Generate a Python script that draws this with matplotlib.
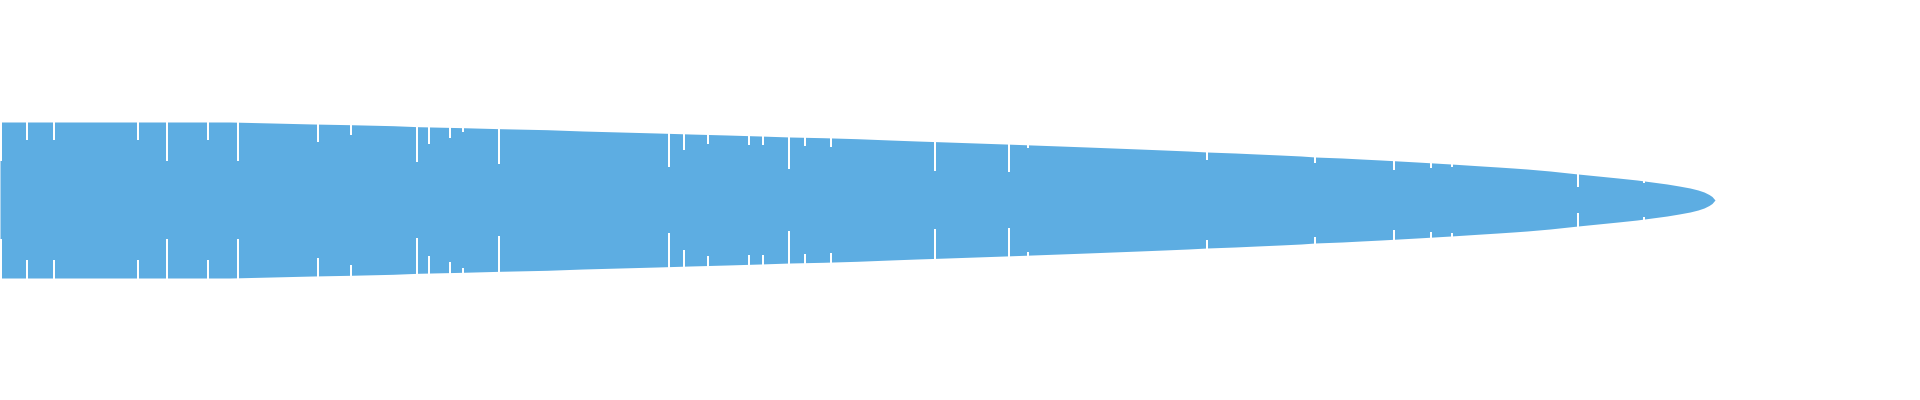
import matplotlib
matplotlib.use("Agg")
import matplotlib.pyplot as plt

# outline of the band: x position and half height (band is mirrored round 0)
env_x = [0, 230, 272, 313, 350, 393, 418, 463, 500, 547, 583, 620, 657, 690,
         727, 760, 790, 823, 857, 890, 917, 947, 976, 1005, 1060, 1087, 1113,
         1139, 1164, 1188, 1207, 1235, 1257, 1280, 1301, 1315, 1342, 1361,
         1381, 1417, 1451, 1482, 1498, 1513, 1527, 1550, 1578, 1598, 1618,
         1637, 1652, 1667, 1679, 1690, 1698, 1704, 1709, 1712, 1715]
env_half = [78, 78, 77, 76, 75.3, 74.3, 73.3, 72.3, 71.3, 70.3, 69, 68, 67,
            66, 65, 64, 63, 62.3, 61.3, 60, 59, 58, 57, 56, 54, 53, 52, 51, 50,
            49, 48, 47, 46, 45, 44, 43, 42, 41, 40, 38, 36, 34, 33, 32, 31, 29,
            26, 24, 22, 20, 18, 16, 14, 12, 10, 8, 5.5, 3.5, 0]

# white cut lines: x position and where the cut stops (half height)
cut_x = [0.8, 27, 54, 138, 167, 208, 238, 318, 351, 417, 429, 450, 463, 499,
         669, 684, 708, 749, 763, 789, 805, 831, 935, 1009, 1028, 1207, 1315,
         1394, 1431, 1452, 1578, 1644]
cut_inner = [39, 60, 60, 60, 39, 60, 39, 58, 65, 38, 56, 62, 68, 36,
             33, 50, 56, 55, 55, 31, 54, 53, 29, 28, 52, 40, 37,
             30, 32, 33, 13, 17]

blue = '#5DADE2'

fig = plt.figure(figsize=(19.2, 4), dpi=100)
ax = fig.add_axes([0, 0, 1, 1])

neg_half = [-h for h in env_half]
ax.fill_between(env_x, neg_half, env_half, color=blue, linewidth=0,
                antialiased=False)

cut_neg = [-h for h in cut_inner]
ax.vlines(cut_x, cut_inner, 95, color='white', linewidth=1.44,
          antialiased=False)
ax.vlines(cut_x, -95, cut_neg, color='white', linewidth=1.44,
          antialiased=False)

ax.set_xlim(0, 1920)
ax.set_ylim(-200, 200)
ax.set_axis_off()

fig.savefig('out.png', dpi=100, facecolor='white')
